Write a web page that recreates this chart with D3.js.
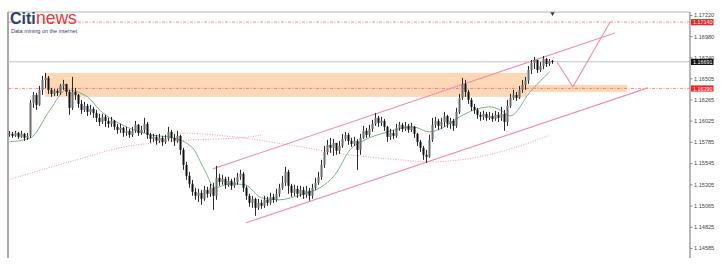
<!DOCTYPE html>
<html>
<head>
<meta charset="utf-8">
<script src="https://cdn.jsdelivr.net/npm/d3@7"></script>
<style>
  body { margin: 0; background: #fff; }
  svg { display: block; font-family: "Liberation Sans", Arial, sans-serif; }
</style>
</head>
<body>
<svg id="chart" width="725" height="269"></svg>
<script>
// EURUSD-style candles, one value per bar (open = previous close)
const firstOpen = 1.15865;
const closes = [
  1.15876,1.15853,1.15887,1.15842,1.15876,1.15831,1.15853,1.16226,1.16317,1.16204,
  1.16373,1.16486,1.16509,1.16373,1.16328,1.16362,1.16339,1.16418,1.16441,1.16350,
  1.16170,1.16350,1.16317,1.16215,1.16147,1.16192,1.16124,1.16158,1.16113,1.16057,
  1.16011,1.16068,1.16023,1.15989,1.16023,1.15955,1.15921,1.15944,1.15887,1.15910,
  1.15865,1.15910,1.15978,1.15887,1.15921,1.15989,1.15865,1.15819,1.15842,1.15797,
  1.15831,1.15785,1.15819,1.15898,1.15831,1.15797,1.15853,1.15695,1.15526,1.15401,
  1.15311,1.15220,1.15175,1.15209,1.15141,1.15243,1.15198,1.15266,1.15175,1.15379,
  1.15333,1.15367,1.15300,1.15345,1.15288,1.15333,1.15390,1.15424,1.15266,1.15175,
  1.15096,1.15141,1.15040,1.15096,1.15062,1.15130,1.15096,1.15164,1.15130,1.15198,
  1.15266,1.15322,1.15446,1.15288,1.15209,1.15254,1.15198,1.15243,1.15187,1.15232,
  1.15175,1.15266,1.15322,1.15390,1.15526,1.15672,1.15752,1.15718,1.15774,1.15684,
  1.15740,1.15819,1.15865,1.15797,1.15763,1.15797,1.15695,1.15831,1.15910,1.15865,
  1.15932,1.15989,1.16057,1.16000,1.16023,1.15955,1.15842,1.15887,1.15853,1.15944,
  1.15978,1.15932,1.15966,1.15921,1.15955,1.15876,1.15785,1.15718,1.15639,1.15616,
  1.15808,1.15978,1.16023,1.15966,1.16011,1.16079,1.15989,1.16023,1.15966,1.16124,
  1.16283,1.16441,1.16350,1.16260,1.16181,1.16147,1.16091,1.16068,1.16102,1.16057,
  1.16079,1.16045,1.16091,1.16057,1.16102,1.16011,1.16192,1.16283,1.16317,1.16283,
  1.16373,1.16430,1.16475,1.16599,1.16678,1.16712,1.16599,1.16644,1.16723,1.16667,
  1.16701,1.16689
];
const highs = [
  1.15910,1.15898,1.15910,1.15898,1.15910,1.15887,1.15887,1.16260,1.16350,1.16339,
  1.16418,1.16531,1.16565,1.16531,1.16396,1.16384,1.16384,1.16441,1.16486,1.16441,
  1.16373,1.16520,1.16396,1.16328,1.16260,1.16237,1.16215,1.16204,1.16181,1.16147,
  1.16102,1.16102,1.16091,1.16057,1.16068,1.16034,1.15989,1.15989,1.15955,1.15955,
  1.15932,1.15955,1.16023,1.15989,1.15966,1.16057,1.16011,1.15887,1.15876,1.15865,
  1.15876,1.15853,1.15865,1.15955,1.15921,1.15876,1.15910,1.15865,1.15718,1.15559,
  1.15446,1.15356,1.15266,1.15254,1.15243,1.15288,1.15277,1.15311,1.15322,1.15514,
  1.15424,1.15413,1.15390,1.15390,1.15367,1.15379,1.15435,1.15469,1.15446,1.15288,
  1.15198,1.15175,1.15153,1.15141,1.15130,1.15175,1.15164,1.15209,1.15198,1.15254,
  1.15311,1.15401,1.15503,1.15469,1.15311,1.15300,1.15288,1.15288,1.15277,1.15288,
  1.15266,1.15311,1.15379,1.15446,1.15582,1.15740,1.15808,1.15831,1.15819,1.15763,
  1.15797,1.15876,1.15898,1.15887,1.15831,1.15842,1.15819,1.15876,1.15966,1.15944,
  1.15978,1.16034,1.16113,1.16079,1.16068,1.16045,1.15966,1.15932,1.15921,1.15989,
  1.16011,1.16000,1.16011,1.15989,1.16000,1.15966,1.15887,1.15808,1.15740,1.15695,
  1.15865,1.16057,1.16068,1.16045,1.16057,1.16124,1.16091,1.16057,1.16045,1.16170,
  1.16328,1.16509,1.16486,1.16373,1.16283,1.16215,1.16170,1.16124,1.16136,1.16124,
  1.16124,1.16113,1.16136,1.16124,1.16181,1.16147,1.16260,1.16328,1.16373,1.16350,
  1.16418,1.16486,1.16520,1.16644,1.16712,1.16746,1.16712,1.16689,1.16757,1.16735,
  1.16723,1.16712
];
const lows = [
  1.15842,1.15831,1.15842,1.15819,1.15831,1.15797,1.15808,1.15831,1.16170,1.16147,
  1.16192,1.16317,1.16396,1.16328,1.16294,1.16305,1.16305,1.16317,1.16373,1.16305,
  1.16091,1.16147,1.16260,1.16170,1.16102,1.16124,1.16079,1.16091,1.16057,1.16011,
  1.15966,1.15989,1.15955,1.15944,1.15955,1.15921,1.15876,1.15887,1.15842,1.15853,
  1.15831,1.15842,1.15887,1.15853,1.15865,1.15887,1.15819,1.15774,1.15785,1.15752,
  1.15774,1.15740,1.15763,1.15797,1.15785,1.15740,1.15774,1.15639,1.15469,1.15356,
  1.15266,1.15175,1.15130,1.15107,1.15074,1.15119,1.15153,1.15164,1.15017,1.15130,
  1.15288,1.15300,1.15254,1.15277,1.15243,1.15266,1.15300,1.15356,1.15220,1.15130,
  1.15051,1.15040,1.14949,1.15017,1.15028,1.15040,1.15062,1.15074,1.15096,1.15107,
  1.15164,1.15243,1.15288,1.15198,1.15164,1.15175,1.15153,1.15164,1.15141,1.15153,
  1.15119,1.15141,1.15243,1.15300,1.15356,1.15492,1.15639,1.15661,1.15627,1.15639,
  1.15650,1.15718,1.15797,1.15752,1.15729,1.15740,1.15469,1.15639,1.15819,1.15831,
  1.15842,1.15898,1.15966,1.15955,1.15966,1.15910,1.15785,1.15808,1.15819,1.15831,
  1.15910,1.15898,1.15910,1.15887,1.15898,1.15831,1.15740,1.15672,1.15582,1.15548,
  1.15605,1.15785,1.15944,1.15921,1.15932,1.15955,1.15944,1.15932,1.15910,1.15944,
  1.16102,1.16260,1.16294,1.16215,1.16136,1.16102,1.16045,1.16023,1.16034,1.16023,
  1.16034,1.16011,1.16023,1.16011,1.16023,1.15910,1.15966,1.16170,1.16260,1.16249,
  1.16271,1.16339,1.16373,1.16441,1.16554,1.16610,1.16565,1.16576,1.16610,1.16633,
  1.16644,1.16667
];

// indicator lines, [bar index, price]
const fastMa = [
  [0,1.15785],[7,1.15831],[13.5,1.16147],[19,1.16373],[26,1.16294],[30,1.16147],
  [39,1.15955],[47,1.15865],[54.5,1.15831],[61,1.15718],[65,1.15469],[68.5,1.15266],
  [73.5,1.15311],[78.5,1.15300],[84,1.15153],[90,1.15130],[97,1.15187],[103.5,1.15266],
  [108.5,1.15413],[113.5,1.15695],[118.5,1.15808],[125,1.15887],[134.5,1.15955],
  [140,1.15898],[145,1.15955],[150,1.16068],[155,1.16147],[160,1.16181],[163.5,1.16147],
  [167,1.16079],[173.5,1.16350],[180,1.16576]
];
const slowMaA = [[-0.5,1.15356],[23.5,1.15593],[36.8,1.15718],[56.8,1.15797],[80.2,1.15842],[84,1.15865]];
const slowMaB = [
  [54.2,1.15887],[63.5,1.15876],[80.2,1.15819],[96.8,1.15729],[113.5,1.15639],
  [130.2,1.15582],[140.2,1.15559],[150.2,1.15582],[163.5,1.15672],[179.5,1.15853]
];

// drawings
const upperChannel = [[67.8,1.15480],[201.8,1.17017]];
const lowerChannel = [[78.8,1.14870],[212.8,1.16396]];
const projection = [[182.5,1.16689],[187.8,1.16407],[200.2,1.17141]];
const zones = [
  {from: 11.8, to: 172.5, top: 1.16565, bottom: 1.16294},
  {from: 172.5, to: 205.8, top: 1.16430, bottom: 1.16350}
];
const redLevels = [1.17140, 1.16390];
const lastPrice = 1.16691;
const priceTicks = [1.17220,1.16980,1.16740,1.16505,1.16265,1.16025,1.15785,1.15545,1.15305,1.15065,1.14825,1.14585];

const svg = d3.select("#chart");
const pLeft = 8, pRight = 690, pTop = 12, pBottom = 258;

const x = d3.scaleLinear().domain([0, closes.length - 1]).range([9.5, 552.5]);
const y = d3.scaleLinear().domain([1.14585, 1.17220]).range([248, 15]);

const bars = closes.map((c, i) => ({
  i, o: i === 0 ? firstOpen : closes[i - 1], h: highs[i], l: lows[i], c
}));

const plot = svg.append("g");

// frame
plot.append("line").attr("x1", pLeft).attr("x2", pRight).attr("y1", pTop).attr("y2", pTop)
  .attr("stroke", "#b4b4b4").attr("stroke-width", 1);
plot.append("line").attr("x1", pLeft).attr("x2", pLeft).attr("y1", pTop).attr("y2", pBottom)
  .attr("stroke", "#a8a8a8").attr("stroke-width", 2);

// zones
plot.selectAll(".zone").data(zones).enter().append("rect")
  .attr("class", "zone")
  .attr("x", d => x(d.from)).attr("width", d => x(d.to) - x(d.from))
  .attr("y", d => y(d.top)).attr("height", d => y(d.bottom) - y(d.top))
  .attr("fill", "#fdd8b6");

// levels
plot.selectAll(".level").data(redLevels).enter().append("line")
  .attr("class", "level")
  .attr("x1", pLeft).attr("x2", pRight)
  .attr("y1", d => y(d)).attr("y2", d => y(d))
  .attr("stroke", "#ec6a6a").attr("stroke-width", 0.8)
  .attr("stroke-dasharray", "3,1.5,1,1.5");
plot.append("line").attr("x1", pLeft).attr("x2", pRight)
  .attr("y1", y(lastPrice)).attr("y2", y(lastPrice))
  .attr("stroke", "#c4c4c4").attr("stroke-width", 1);

const line = d3.line().x(d => x(d[0])).y(d => y(d[1]));
const smooth = d3.line().x(d => x(d[0])).y(d => y(d[1])).curve(d3.curveMonotoneX);

// slow moving averages (dotted)
[slowMaA, slowMaB].forEach(s => {
  plot.append("path").attr("d", smooth(s)).attr("fill", "none")
    .attr("stroke", "#f09aa6").attr("stroke-width", 1)
    .attr("stroke-dasharray", "1,1.5");
});

// channels and projection
[upperChannel, lowerChannel, projection].forEach(s => {
  plot.append("path").attr("d", line(s)).attr("fill", "none")
    .attr("stroke", "#f08fa6").attr("stroke-width", 1.1);
});

// fast MA
plot.append("path").attr("d", smooth(fastMa)).attr("fill", "none")
  .attr("stroke", "#7fb08a").attr("stroke-width", 1);

// candles
const candle = plot.selectAll(".candle").data(bars).enter().append("g").attr("class", "candle");
candle.append("line")
  .attr("x1", d => x(d.i)).attr("x2", d => x(d.i))
  .attr("y1", d => y(d.h)).attr("y2", d => y(d.l))
  .attr("stroke", "#2a2a2a").attr("stroke-width", 1);
candle.append("rect")
  .attr("x", d => x(d.i) - 1).attr("width", 2)
  .attr("y", d => y(Math.max(d.o, d.c)))
  .attr("height", d => Math.max(1, Math.abs(y(d.o) - y(d.c))))
  .attr("fill", d => d.c >= d.o ? "#6a6a6a" : "#111");

// small marker at top
plot.append("path")
  .attr("d", d3.symbol().type(d3.symbolTriangle).size(8)())
  .attr("transform", `translate(${x(closes.length - 1)},${pTop + 1.5}) rotate(180)`)
  .attr("fill", "#333");

// price axis
svg.append("line").attr("x1", pRight).attr("x2", pRight).attr("y1", pTop).attr("y2", pBottom)
  .attr("stroke", "#a0a0a0").attr("stroke-width", 1.5);
const axis = svg.append("g").attr("transform", `translate(${pRight},0)`)
  .call(d3.axisRight(y).tickValues(priceTicks).tickSize(2.5).tickPadding(1.5).tickFormat(d3.format(".5f")));
axis.select(".domain").remove();
axis.selectAll(".tick line").attr("stroke", "#888");
axis.selectAll(".tick text").attr("fill", "#444").style("font-size", "5.6px")
  .style("font-family", "'Liberation Sans', Arial, sans-serif");

// price labels
const labels = redLevels.map(v => ({v, bg: "#f22323"})).concat([{v: lastPrice, bg: "#111"}]);
const lab = svg.selectAll(".plabel").data(labels).enter().append("g").attr("class", "plabel");
lab.append("rect").attr("x", pRight + 1).attr("width", 22.5)
  .attr("y", d => y(d.v) - 3).attr("height", 6.2).attr("fill", d => d.bg);
lab.append("text").attr("x", pRight + 3).attr("y", d => y(d.v) + 0.3).attr("dy", "0.35em")
  .attr("fill", "#fff").style("font-size", "5.4px").text(d => d3.format(".5f")(d.v));

// logo
const logo = svg.append("g");
logo.append("text").attr("x", 10).attr("y", 24)
  .attr("fill", "#2b3f78").style("font-size", "16px").style("font-weight", "bold")
  .style("font-family", "'Liberation Sans', Arial, sans-serif").text("Citi");
logo.append("text").attr("x", 36).attr("y", 24)
  .attr("fill", "#e2393b").style("font-size", "17.5px")
  .style("font-family", "'Liberation Sans', Arial, sans-serif").text("news");
logo.append("text").attr("x", 11).attr("y", 32.5)
  .attr("fill", "#2b3f78").style("font-size", "5.5px").text("Data mining on the internet");
</script>
</body>
</html>
